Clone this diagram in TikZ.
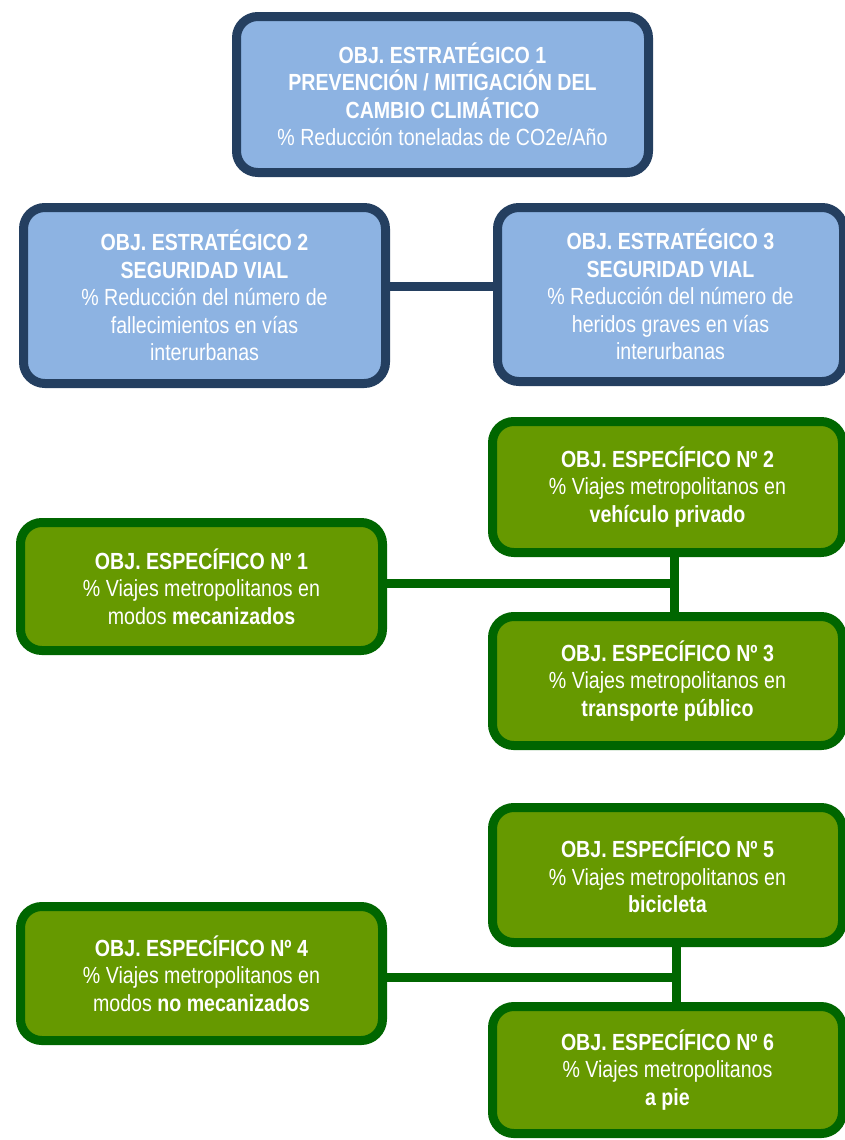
\documentclass[tikz,border=0pt]{standalone}
\usepackage{fontspec}
\setmainfont{Liberation Sans}[FakeStretch=0.84]
\usepackage{tikz}
\usetikzlibrary{calc}
\definecolor{stratline}{HTML}{243F60}
\definecolor{stratfill}{HTML}{8DB3E2}
\definecolor{specline}{HTML}{006600}
\definecolor{specfill}{HTML}{669900}
\begin{document}
\begin{tikzpicture}[
x=0.75pt,y=-0.75pt,
box/.style 2 args={rounded corners=16pt,inner sep=0pt,align=center,text=white,
  minimum width=#1*0.75pt,minimum height=#2*0.75pt,font=\fontsize{17.5}{20.6}\selectfont},
strat/.style={draw=stratline,fill=stratfill,line width=6.75pt},
spec/.style={draw=specline,fill=specfill,line width=6.75pt},
blink/.style={draw=stratline,line width=6.75pt},
glink/.style={draw=specline,line width=6.75pt}
]
\clip (0,0) rectangle (845,1140);
\node[strat,box={412}{156}] (o1) at (442.5,94.5) {\textbf{OBJ. ESTRATÉGICO 1}\\\textbf{PREVENCIÓN / MITIGACIÓN DEL}\\\textbf{CAMBIO CLIMÁTICO}\\\% Reducción toneladas de CO2e/Año};
\node[strat,box={362}{176}] (o2) at (204.5,295.5) {\textbf{OBJ. ESTRATÉGICO 2}\\\textbf{SEGURIDAD VIAL}\\\% Reducción del número de\\fallecimientos en vías\\interurbanas};
\node[strat,box={346}{174}] (o3) at (670.5,294.5) {\textbf{OBJ. ESTRATÉGICO 3}\\\textbf{SEGURIDAD VIAL}\\\% Reducción del número de\\heridos graves en vías\\interurbanas};
\coordinate (j23) at (440,286);
\draw[blink] (o2.east |- j23) -- (o3.west |- j23);
\node[spec,box={362}{128}] (s1) at (201.5,586.5) {\textbf{OBJ. ESPECÍFICO Nº 1}\\\% Viajes metropolitanos en\\modos \textbf{mecanizados}};
\node[spec,box={350}{131}] (s2) at (667.5,487) {\textbf{OBJ. ESPECÍFICO Nº 2}\\\% Viajes metropolitanos en\\\textbf{vehículo privado}};
\node[spec,box={350}{129}] (s3) at (667.5,681) {\textbf{OBJ. ESPECÍFICO Nº 3}\\\% Viajes metropolitanos en\\\textbf{transporte público}};
\coordinate (ja) at (674,583);
\draw[glink] (s1.east |- ja) -- (ja);
\draw[glink] (s2.south -| ja) -- (s3.north -| ja);
\node[spec,box={362}{134}] (s4) at (201.5,973.5) {\textbf{OBJ. ESPECÍFICO Nº 4}\\\% Viajes metropolitanos en\\modos \textbf{no mecanizados}};
\node[spec,box={350}{135}] (s5) at (667.5,875) {\textbf{OBJ. ESPECÍFICO Nº 5}\\\% Viajes metropolitanos en\\\textbf{bicicleta}};
\node[spec,box={350}{127}] (s6) at (667.5,1070) {\textbf{OBJ. ESPECÍFICO Nº 6}\\\% Viajes metropolitanos\\\textbf{a pie}};
\coordinate (jb) at (676,977);
\draw[glink] (s4.east |- jb) -- (jb);
\draw[glink] (s5.south -| jb) -- (s6.north -| jb);
\end{tikzpicture}
\end{document}
